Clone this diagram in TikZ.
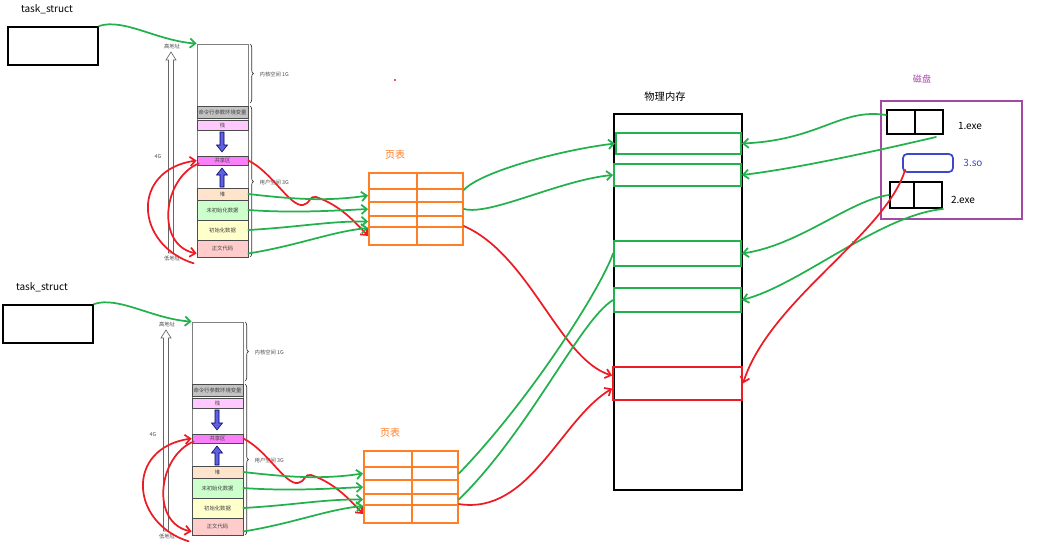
\documentclass[tikz,border=0pt]{standalone}
\usepackage{fontspec}
\setmainfont{Noto Sans CJK SC}
\usetikzlibrary{arrows.meta,fit,calc,decorations.pathreplacing}
\definecolor{pgreen}{RGB}{34,177,76}
\definecolor{pred}{RGB}{237,28,36}
\definecolor{porange}{RGB}{255,127,39}
\definecolor{ppurple}{RGB}{163,73,164}
\definecolor{pblue}{RGB}{63,72,204}
\definecolor{segray}{RGB}{195,195,195}
\definecolor{sepink}{RGB}{255,200,255}
\definecolor{semag}{RGB}{250,128,250}
\definecolor{sepeach}{RGB}{255,228,204}
\definecolor{segreen}{RGB}{204,255,204}
\definecolor{seyellow}{RGB}{255,255,204}
\definecolor{sered}{RGB}{255,204,204}
\definecolor{arrowblue}{RGB}{96,96,224}
\tikzset{
  box/.style={draw=black, line width=1.5pt, inner sep=0pt},
  colbox/.style={draw=gray, line width=0.6pt, inner sep=0pt},
  seg/.style={draw=black!70, line width=0.5pt, inner sep=0pt},
  segtext/.style={inner sep=0pt, text=black!75, font=\fontsize{4}{4.5}\selectfont, anchor=center},
  ptcell/.style={draw=porange, line width=1.4pt, inner sep=0pt},
  gbox/.style={draw=pgreen, line width=1.4pt, inner sep=0pt},
  rbox/.style={draw=pred, line width=1.4pt, inner sep=0pt},
  gline/.style={draw=pgreen, line width=1.3pt, line cap=round},
  rline/.style={draw=pred, line width=1.3pt, line cap=round},
  barb/.style={-{Straight Barb[length=4pt,width=7pt]}},
  small/.style={font=\fontsize{4}{5}\selectfont, text=black!70},
  bracestyle/.style={draw=black!80, line width=0.5pt, decorate, decoration={brace, amplitude=2.5pt}},
  blk/.style={draw=blue!40!black, line width=0.4pt, fill=arrowblue},
  hollow/.style={draw=black!60, line width=0.5pt, fill=white},
}
\newcommand\procblock[1]{%
  \node[font=\fontsize{7.5}{9}\selectfont] (#1tlabel) at (47,9) {task\_struct};
  \node[box, fit={(8,27) (98,65)}] (#1task) {};
  \node[colbox, fit={(197,44) (248,257)}] (#1col) {};
  \node[seg, fill=segray, fit={(197,106) (248,118)}] (#1env) {};
  \node[seg, fill=sepink, fit={(197,120) (248,130)}] (#1stack) {};
  \node[seg, fill=semag, fit={(197,156) (248,165)}] (#1shared) {};
  \node[seg, fill=sepeach, fit={(197,188) (248,200)}] (#1heap) {};
  \node[seg, fill=segreen, fit={(197,200) (248,220)}] (#1bss) {};
  \node[seg, fill=seyellow, fit={(197,220) (248,240)}] (#1data) {};
  \node[seg, fill=sered, fit={(197,240) (248,257)}] (#1text) {};
  \node[segtext] (#1envt) at (#1env.center) {命令行参数环境变量};
  \node[segtext] (#1stackt) at (#1stack.center) {栈};
  \node[segtext] (#1sharedt) at (#1shared.center) {共享区};
  \node[segtext] (#1heapt) at (#1heap.center) {堆};
  \node[segtext] (#1bsst) at (#1bss.center) {未初始化数据};
  \node[segtext] (#1datat) at (#1data.center) {初始化数据};
  \node[segtext] (#1textt) at (#1text.center) {正文代码};
  % blue arrows
  \draw[blk] (220,132) -- (224,132) -- (224,145) -- (227.5,145) -- (222,152) -- (216.5,145) -- (220,145) -- cycle;
  \draw[blk] (220,187) -- (224,187) -- (224,175) -- (227.5,175) -- (222,168) -- (216.5,175) -- (220,175) -- cycle;
  % address arrow
  \draw[hollow] (168.5,253) -- (168.5,60) -- (166,60) -- (171,52) -- (176,60) -- (173.5,60) -- (173.5,253) -- cycle;
  \node[small] (#1high) at (172,46) {高地址};
  \node[small] (#1low) at (172,258) {低地址};
  \node[small] (#1fourg) at (158,157) {4G};
  % braces
  \draw[bracestyle] (250,44) -- (250,103);
  \draw[bracestyle] (250,106) -- (250,257);
  \node[small, anchor=west] (#1kern) at (255,74) {内核空间 1G};
  \node[small, anchor=west] (#1user) at (255,182) {用户空间 3G};
  % page table
  \node[font=\fontsize{7.5}{9}\selectfont, text=porange] (#1pttitle) at (395,155) {页表};
  \foreach \i/\ya/\yb in {1/173/189, 2/189/202, 3/202/216, 4/216/227, 5/227/245} {
    \node[ptcell, fit={(369,\ya) (417,\yb)}] (#1r\i l) {};
    \node[ptcell, fit={(417,\ya) (463,\yb)}] (#1r\i r) {};
  }
  % connectors
  \draw[gline,barb] (#1task.north east) .. controls +(25,-8) and +(-40,-3) .. (#1col.north west);
  \draw[rline,barb] ($(#1text.south west)+(-3,6)$) .. controls (135,245) and (130,170) .. (#1shared.west);
  \draw[rline,barb] ($(#1shared.west)+(2,3)$) .. controls (163,178) and (155,245) .. ($(#1text.west)+(0,5)$);
  \draw[rline,barb] (#1shared.east) .. controls (272,172) and (290,207) .. (303,205)
     .. controls (310,204) and (310,195) .. (316,197) .. controls (340,205) and (355,222) .. (#1r5l.west);
  \draw[gline,barb] (#1heap.east) .. controls (300,200) and (330,201) .. (#1r2l.west);
  \draw[gline,barb] (#1bss.east) .. controls (290,213) and (330,211) .. (#1r3l.west);
  \draw[gline,barb] (#1data.east) .. controls (300,227) and (330,221) .. (#1r4l.west);
  \draw[gline,barb] ($(#1text.east)+(0,5)$) .. controls (300,245) and (330,232) .. (#1r4l.south west);
}
\begin{document}
\begin{tikzpicture}[x=0.75pt, y=-0.75pt]
\useasboundingbox (0,0) rectangle (1060,547);
\begin{scope}\procblock{a}\end{scope}
\begin{scope}[shift={(-5,278)}]\procblock{b}\end{scope}
% physical memory
\node[font=\fontsize{7.7}{9}\selectfont] (physlabel) at (665,97) {物理内存};
\node[box, fit={(614,114) (742,490)}] (phys) {};
\node[gbox, fit={(616,133) (741,154)}] (frame1) {};
\node[gbox, fit={(614,164) (741,186)}] (frame2) {};
\node[gbox, fit={(614,241) (741,266)}] (frame3) {};
\node[gbox, fit={(614,288) (741,312)}] (frame4) {};
\node[rbox, fit={(613,367) (742,400)}] (redframe) {};
% disk
\node[font=\fontsize{6.8}{8}\selectfont, text=ppurple] (disklabel) at (922,79) {磁盘};
\node[draw=ppurple, line width=1.4pt, inner sep=0pt, fit={(881,101) (1022,219)}] (disk) {};
\node[box, fit={(887,110) (915,134)}] (exe1a) {};
\node[box, fit={(915,110) (943,134)}] (exe1b) {};
\node[box, fit={(890,182) (914,208)}] (exe2a) {};
\node[box, fit={(914,182) (942,208)}] (exe2b) {};
\node[draw=pblue, line width=1.3pt, rounded corners=3pt, inner sep=0pt, fit={(903,154) (953,172)}] (so) {};
\node[font=\fontsize{7.5}{9}\selectfont] (exe1label) at (970,126) {1.exe};
\node[font=\fontsize{7.5}{9}\selectfont, text=pblue] (solabel) at (973,163) {3.so};
\node[font=\fontsize{7.5}{9}\selectfont] (exe2label) at (963,200) {2.exe};
% page table -> memory
\draw[gline,barb] (ar1r.south east) .. controls (480,172) and (560,150) .. (frame1.west);
\draw[gline,barb] (ar3r.east) .. controls (490,216) and (560,180) .. (frame2.west);
\draw[rline,barb] (ar5r.north east) .. controls (530,255) and (560,360) .. ($(redframe.west)+(0,-8)$);
\draw[gline] (br2r.east) .. controls (530,400) and (600,290) .. (frame3.west);
\draw[gline] (br4r.east) .. controls (530,430) and (580,320) .. (frame4.west);
\draw[rline,barb] (br5r.north east) .. controls (530,515) and (560,420) .. ($(redframe.west)+(0,5)$);
% disk -> memory
\draw[gline,barb] ($(exe1a.north west)+(0,6)$) .. controls (840,108) and (820,140) .. (frame1.east);
\draw[gline,barb] ($(exe1b.south east)+(-8,2)$) .. controls (880,150) and (800,168) .. (frame2.east);
\draw[gline,barb] (exe2a.west) .. controls (850,200) and (800,245) .. (frame3.east);
\draw[gline,barb] (exe2b.south east) .. controls (880,215) and (800,285) .. (frame4.east);
\draw[rline,barb] ($(so.south west)+(3,-3)$) .. controls (885,235) and (770,300) .. (redframe.east);
% stray dots
\fill[pred] (395,80) circle (1.2);
\fill[pgreen] (853,242) circle (1.2);
\end{tikzpicture}
\end{document}
